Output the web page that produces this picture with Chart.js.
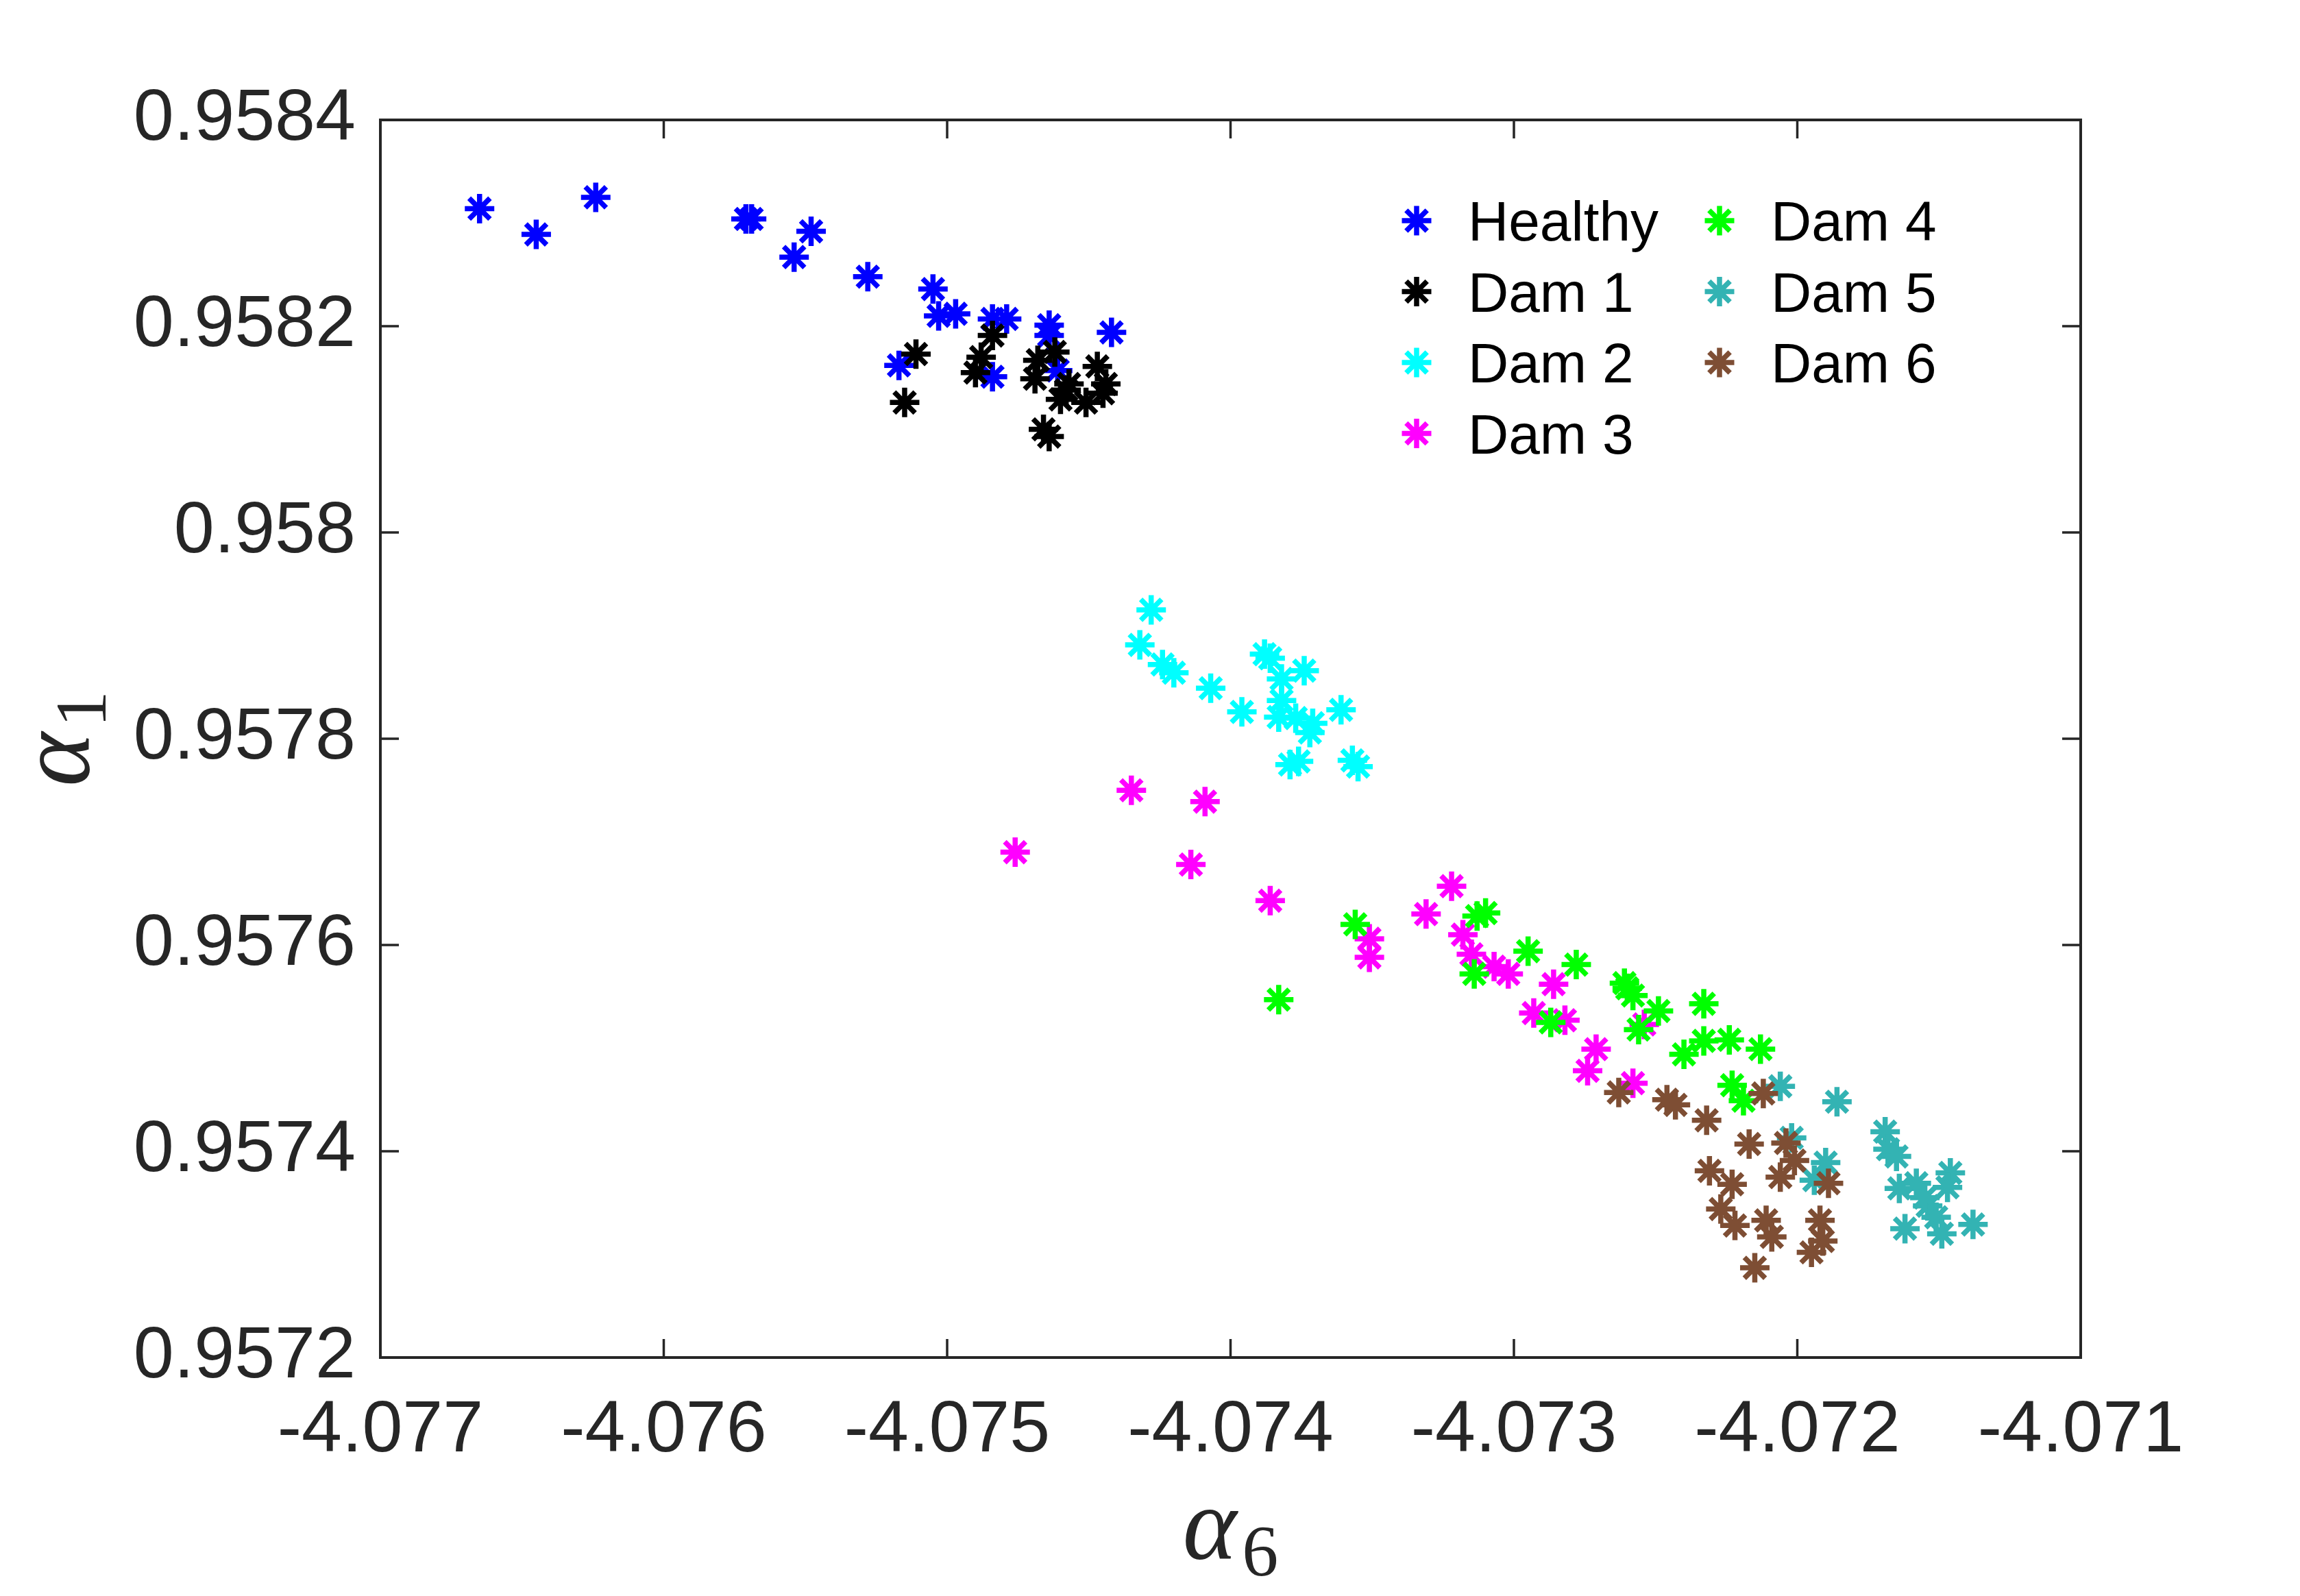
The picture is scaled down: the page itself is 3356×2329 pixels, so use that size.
<!DOCTYPE html>
<html>
<head>
<meta charset="utf-8">
<script src="https://cdn.jsdelivr.net/npm/chart.js@4"></script>
<style>
  html, body { margin: 0; padding: 0; background: #fff; }
  canvas { display: block; }
</style>
</head>
<body>
<canvas id="chart" width="3356" height="2329" style="width:3356px;height:2329px"></canvas>
<script>
// ================================
// DATA
// ================================
const seriesNames = ['Healthy', 'Dam 1', 'Dam 2', 'Dam 3', 'Dam 4', 'Dam 5', 'Dam 6'];
const seriesColors = ['#0000ff', '#000000', '#00ffff', '#ff00ff', '#00ff00', '#33b3b3', '#7e4e34'];

const xTicks = [-4.077, -4.076, -4.075, -4.074, -4.073, -4.072, -4.071];
const yTicks = [0.9572, 0.9574, 0.9576, 0.9578, 0.958, 0.9582, 0.9584];

const healthyX = [-4.07665, -4.07645, -4.07624, -4.07571, -4.07569, -4.07548, -4.07554, -4.07528, -4.07505, -4.07503,
  -4.07497, -4.07484, -4.07479, -4.07464, -4.07464, -4.07442, -4.07517, -4.07484, -4.07461];
const healthyY = [0.958314, 0.958289, 0.958325, 0.958304, 0.958304, 0.958292, 0.958267, 0.958248, 0.958236, 0.958210,
  0.958212, 0.958207, 0.958207, 0.958201, 0.958191, 0.958194, 0.958162, 0.958151, 0.958157];

const dam1X = [-4.07511, -4.07515, -4.07484, -4.07488, -4.07490, -4.07468, -4.07462, -4.07469, -4.07447, -4.07444,
  -4.07445, -4.07458, -4.07451, -4.07460, -4.07466, -4.07464, -4.07457];
const dam1Y = [0.958173, 0.958126, 0.958191, 0.958170, 0.958155, 0.958167, 0.958175, 0.958149, 0.958161, 0.958144,
  0.958135, 0.958138, 0.958126, 0.958129, 0.958100, 0.958093, 0.958144];

const dam2X = [-4.07428, -4.07432, -4.07424, -4.07420, -4.07407, -4.07396, -4.07386, -4.07388, -4.07382, -4.07374,
  -4.07382, -4.07383, -4.07377, -4.07371, -4.07372, -4.07361, -4.07379, -4.07376, -4.07357, -4.07355];
const dam2Y = [0.957925, 0.957891, 0.957872, 0.957864, 0.957849, 0.957826, 0.957878, 0.957882, 0.957858, 0.957866,
  0.957837, 0.957821, 0.957820, 0.957815, 0.957806, 0.957828, 0.957775, 0.957778, 0.957779, 0.957773];

const dam3X = [-4.07435, -4.07409, -4.07476, -4.07414, -4.07386, -4.07322, -4.07331, -4.07351, -4.07351, -4.07318,
  -4.07315, -4.07307, -4.07302, -4.07286, -4.07293, -4.07282, -4.07254, -4.07271, -4.07274, -4.07258];
const dam3Y = [0.957750, 0.957739, 0.957690, 0.957678, 0.957643, 0.957657, 0.957630, 0.957606, 0.957588, 0.957610,
  0.957591, 0.957579, 0.957572, 0.957562, 0.957534, 0.957527, 0.957523, 0.957499, 0.957478, 0.957466];

const dam4X = [-4.07383, -4.07356, -4.07310, -4.07313, -4.07295, -4.07314, -4.07278, -4.07261, -4.07258, -4.07249,
  -4.07256, -4.07287, -4.07233, -4.07233, -4.07224, -4.07213, -4.07240, -4.07223, -4.07219, -4.07260];
const dam4Y = [0.957547, 0.957620, 0.957631, 0.957628, 0.957594, 0.957572, 0.957581, 0.957563, 0.957551, 0.957536,
  0.957518, 0.957525, 0.957543, 0.957507, 0.957508, 0.957499, 0.957494, 0.957464, 0.957449, 0.957558];

const dam5X = [-4.07206, -4.07186, -4.07202, -4.07169, -4.07168, -4.07165, -4.07190, -4.07194, -4.07164, -4.07158,
  -4.07146, -4.07147, -4.07154, -4.07151, -4.07162, -4.07149, -4.07138, -4.07155];
const dam5Y = [0.957463, 0.957448, 0.957413, 0.957419, 0.957402, 0.957395, 0.957389, 0.957372, 0.957364, 0.957369,
  0.957379, 0.957365, 0.957347, 0.957336, 0.957325, 0.957320, 0.957329, 0.957355];

const dam6X = [-4.07263, -4.07246, -4.07243, -4.07232, -4.07212, -4.07217, -4.07204, -4.07201, -4.07206, -4.07189,
  -4.07231, -4.07223, -4.07227, -4.07222, -4.07211, -4.07209, -4.07192, -4.07191, -4.07195, -4.07215];
const dam6Y = [0.957457, 0.957450, 0.957445, 0.957430, 0.957456, 0.957407, 0.957408, 0.957391, 0.957375, 0.957369,
  0.957381, 0.957368, 0.957344, 0.957328, 0.957333, 0.957317, 0.957333, 0.957313, 0.957302, 0.957287];

const seriesX = [healthyX, dam1X, dam2X, dam3X, dam4X, dam5X, dam6X];
const seriesY = [healthyY, dam1Y, dam2Y, dam3Y, dam4Y, dam5Y, dam6Y];

// ================================
// STYLE
// ================================
const AXIS_COLOR = '#262626';
const TICK_FONT = { family: 'Liberation Sans, Arial, sans-serif', size: 106 };
const MARKER_RADIUS = 21.5;
const MARKER_WIDTH = 7.5;

const toPoints = (xs, ys) => xs.map((x, i) => ({ x, y: ys[i] }));

// star marker like MATLAB '*'
function drawStar(ctx, x, y, r, color) {
  ctx.save();
  ctx.strokeStyle = color;
  ctx.lineWidth = MARKER_WIDTH;
  ctx.beginPath();
  ctx.moveTo(x - r, y); ctx.lineTo(x + r, y);
  ctx.moveTo(x, y - r); ctx.lineTo(x, y + r);
  const d = r * Math.SQRT1_2;
  ctx.moveTo(x - d, y - d); ctx.lineTo(x + d, y + d);
  ctx.moveTo(x - d, y + d); ctx.lineTo(x + d, y - d);
  ctx.stroke();
  ctx.restore();
}

// ================================
// PLUGINS
// ================================
const boxPlugin = {
  id: 'box',
  afterDraw(chart) {
    const { ctx, chartArea: a, scales } = chart;
    const len = 27;
    ctx.save();
    ctx.strokeStyle = AXIS_COLOR;
    ctx.lineWidth = 3.5;
    ctx.beginPath();
    xTicks.forEach(v => {
      const px = scales.x.getPixelForValue(v);
      ctx.moveTo(px, a.bottom); ctx.lineTo(px, a.bottom - len);
      ctx.moveTo(px, a.top); ctx.lineTo(px, a.top + len);
    });
    yTicks.forEach(v => {
      const py = scales.y.getPixelForValue(v);
      ctx.moveTo(a.left, py); ctx.lineTo(a.left + len, py);
      ctx.moveTo(a.right, py); ctx.lineTo(a.right - len, py);
    });
    ctx.stroke();
    ctx.lineWidth = 4;
    ctx.strokeRect(a.left, a.top, a.right - a.left, a.bottom - a.top);
    ctx.restore();
  }
};

function drawAlphaLabel(ctx, sub, cx, baseline) {
  const mainFont = 'italic 150px "Liberation Serif", "DejaVu Serif", serif';
  const subFont = '106px "Liberation Serif", "DejaVu Serif", serif';
  ctx.font = mainFont;
  const wa = ctx.measureText('α').width;
  ctx.font = subFont;
  const ws = ctx.measureText(sub).width;
  const gap = 8;
  const left = cx - (wa + gap + ws) / 2;
  ctx.fillStyle = AXIS_COLOR;
  ctx.textBaseline = 'alphabetic';
  ctx.textAlign = 'left';
  ctx.font = mainFont;
  ctx.fillText('α', left, baseline);
  ctx.font = subFont;
  ctx.fillText(sub, left + wa + gap, baseline + 24);
}

const labelPlugin = {
  id: 'alphaLabels',
  afterDraw(chart) {
    const { ctx, chartArea: a } = chart;
    ctx.save();
    drawAlphaLabel(ctx, '6', (a.left + a.right) / 2, 2275);
    ctx.translate(130, (a.top + a.bottom) / 2);
    ctx.rotate(-Math.PI / 2);
    drawAlphaLabel(ctx, '1', 0, 0);
    ctx.restore();
  }
};

const legendPlugin = {
  id: 'twoColLegend',
  afterDraw(chart) {
    const { ctx } = chart;
    const cols = [{ mx: 2067, tx: 2142 }, { mx: 2509, tx: 2584 }];
    const rowH = 103.5;
    ctx.save();
    ctx.font = '82px "Liberation Sans", Arial, sans-serif';
    ctx.textAlign = 'left';
    ctx.textBaseline = 'alphabetic';
    seriesNames.forEach((name, i) => {
      const col = cols[i < 4 ? 0 : 1];
      const row = i < 4 ? i : i - 4;
      const base = 351 + row * rowH;
      drawStar(ctx, col.mx, base - 29, MARKER_RADIUS, seriesColors[i]);
      ctx.fillStyle = '#000';
      ctx.fillText(name, col.tx, base);
    });
    ctx.restore();
  }
};

// ================================
// CHART
// ================================
const datasets = seriesNames.map((name, i) => ({
  label: name,
  data: toPoints(seriesX[i], seriesY[i]),
  pointStyle: 'star',
  pointRadius: MARKER_RADIUS,
  pointHoverRadius: MARKER_RADIUS,
  pointBorderWidth: MARKER_WIDTH,
  borderColor: seriesColors[i],
  backgroundColor: seriesColors[i],
  showLine: false,
  order: seriesNames.length - i
}));

const fmtY = v => String(parseFloat(v.toFixed(4)));
const fmtX = v => v.toFixed(3);

new Chart(document.getElementById('chart'), {
  type: 'scatter',
  data: { datasets },
  options: {
    responsive: false,
    animation: false,
    devicePixelRatio: 1,
    layout: { padding: { top: 175, right: 320, left: 0, bottom: 0 } },
    plugins: { legend: { display: false }, tooltip: { enabled: false } },
    scales: {
      x: {
        type: 'linear',
        min: -4.077,
        max: -4.071,
        afterFit: s => { s.height = 348; },
        afterBuildTicks: s => { s.ticks = xTicks.map(value => ({ value })); },
        grid: { display: false, drawTicks: false },
        border: { display: false },
        ticks: { font: TICK_FONT, color: AXIS_COLOR, padding: 44, maxRotation: 0, callback: fmtX }
      },
      y: {
        type: 'linear',
        min: 0.9572,
        max: 0.9584,
        afterFit: s => { s.width = 555; },
        afterBuildTicks: s => { s.ticks = yTicks.map(value => ({ value })); },
        grid: { display: false, drawTicks: false },
        border: { display: false },
        ticks: { font: TICK_FONT, color: AXIS_COLOR, padding: 36, callback: fmtY }
      }
    }
  },
  plugins: [boxPlugin, labelPlugin, legendPlugin]
});
</script>
</body>
</html>
